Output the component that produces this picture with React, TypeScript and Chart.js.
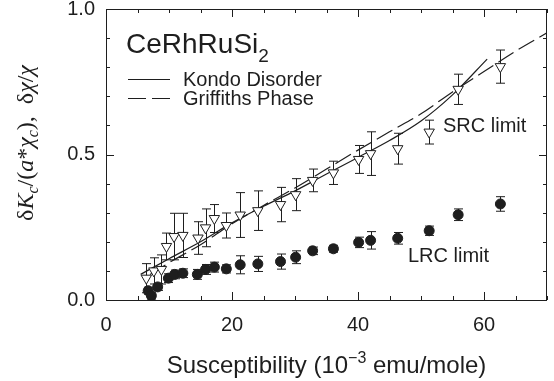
import React, { useEffect, useRef } from 'react';
import { Chart, registerables } from 'chart.js';

Chart.register(...registerables);

// ---- data ----
const srcX = [6.4, 7.6, 8.8, 9.6, 10.8, 12.2, 14.6, 15.8, 17.2, 19.1, 21.3, 24.1, 27.7, 30.1, 32.8, 36.1, 40.1, 42.0, 46.3, 51.3, 55.9, 62.6];
const srcY = [0.075, 0.1, 0.105, 0.184, 0.218, 0.222, 0.213, 0.248, 0.28, 0.256, 0.292, 0.307, 0.328, 0.362, 0.411, 0.437, 0.483, 0.503, 0.52, 0.577, 0.724, 0.802];
const srcErr = [0.05, 0.045, 0.05, 0.046, 0.08, 0.076, 0.056, 0.065, 0.048, 0.043, 0.077, 0.068, 0.059, 0.055, 0.039, 0.04, 0.048, 0.075, 0.053, 0.041, 0.052, 0.057];

const lrcX = [6.7, 7.2, 8.2, 9.9, 10.9, 12.2, 14.5, 15.8, 17.2, 19.1, 21.3, 24.1, 27.7, 30.1, 32.8, 36.1, 40.1, 42.0, 46.3, 51.3, 55.9, 62.6];
const lrcY = [0.032, 0.015, 0.045, 0.075, 0.088, 0.092, 0.088, 0.105, 0.113, 0.107, 0.121, 0.124, 0.132, 0.147, 0.169, 0.176, 0.198, 0.205, 0.212, 0.238, 0.293, 0.33];
const lrcErr = [0.012, 0.012, 0.012, 0.015, 0.015, 0.015, 0.017, 0.017, 0.017, 0.014, 0.031, 0.026, 0.026, 0.022, 0.013, 0.012, 0.018, 0.03, 0.02, 0.016, 0.02, 0.025];

const kondoX = [5.5, 10, 15, 20, 25, 30, 35, 40, 45, 50, 55, 60.5];
const kondoY = [0.088, 0.142, 0.2, 0.265, 0.322, 0.375, 0.433, 0.49, 0.548, 0.615, 0.705, 0.828];

const griffithsX = [7, 10, 15, 20, 25, 30, 35, 40, 45, 50, 55, 60, 65, 70];
const griffithsY = [0.088, 0.128, 0.19, 0.262, 0.325, 0.385, 0.45, 0.515, 0.578, 0.64, 0.715, 0.785, 0.855, 0.918];

const xTickValues = [0, 20, 40, 60];
const yTickValues = [0, 0.5, 1.0];
const xMinorStep = 5;
const yMinorStep = 0.1;

const INK = '#1e1e1e';
const SANS = '"Liberation Sans", Arial, Helvetica, sans-serif';
const SERIF = '"Liberation Serif", "Times New Roman", serif';

const pts = (xs: number[], ys: number[]) => xs.map((x, i) => ({ x, y: ys[i] }));

const errorBarPlugin = {
  id: 'errorBars',
  beforeDatasetsDraw(chart: any) {
    const ctx = chart.ctx;
    const xs = chart.scales.x;
    const ys = chart.scales.y;
    const sets: [number[], number[], number[]][] = [
      [srcX, srcY, srcErr],
      [lrcX, lrcY, lrcErr],
    ];
    ctx.save();
    ctx.strokeStyle = INK;
    ctx.lineWidth = 1;
    sets.forEach(([xv, yv, ev]) => {
      xv.forEach((xx, i) => {
        const px = Math.round(xs.getPixelForValue(xx)) + 0.5;
        const top = ys.getPixelForValue(yv[i] + ev[i]);
        const bot = ys.getPixelForValue(yv[i] - ev[i]);
        ctx.beginPath();
        ctx.moveTo(px, top);
        ctx.lineTo(px, bot);
        ctx.moveTo(px - 4.5, top);
        ctx.lineTo(px + 4.5, top);
        ctx.moveTo(px - 4.5, bot);
        ctx.lineTo(px + 4.5, bot);
        ctx.stroke();
      });
    });
    ctx.restore();
  },
};

function drawSegments(ctx: CanvasRenderingContext2D, segs: { t: string; f: string; dy?: number }[], startX: number, y: number) {
  let x = startX;
  segs.forEach((s) => {
    ctx.font = s.f;
    ctx.fillText(s.t, x, y + (s.dy || 0));
    x += ctx.measureText(s.t).width;
  });
}

function segWidth(ctx: CanvasRenderingContext2D, segs: { t: string; f: string }[]) {
  let w = 0;
  segs.forEach((s) => {
    ctx.font = s.f;
    w += ctx.measureText(s.t).width;
  });
  return w;
}

const framePlugin = {
  id: 'frameAndText',
  afterDraw(chart: any) {
    const ctx: CanvasRenderingContext2D = chart.ctx;
    const { left, right, top, bottom } = chart.chartArea;
    const xs = chart.scales.x;
    const ys = chart.scales.y;
    ctx.save();
    ctx.strokeStyle = INK;
    ctx.lineWidth = 1;
    // frame
    ctx.strokeRect(Math.round(left) + 0.5, Math.round(top) + 0.5, Math.round(right - left) - 1, Math.round(bottom - top));
    // x ticks (bottom and top, inward)
    for (let v = xs.min; v <= xs.max + 1e-9; v += xMinorStep) {
      const major = xTickValues.some((t) => Math.abs(t - v) < 1e-9);
      const len = major ? 8 : 4;
      const px = Math.round(xs.getPixelForValue(v)) + 0.5;
      ctx.beginPath();
      ctx.moveTo(px, bottom);
      ctx.lineTo(px, bottom - len);
      ctx.moveTo(px, top);
      ctx.lineTo(px, top + len);
      ctx.stroke();
    }
    // y ticks (left and right, inward)
    for (let v = ys.min; v <= ys.max + 1e-9; v += yMinorStep) {
      const major = yTickValues.some((t) => Math.abs(t - v) < 1e-9);
      const len = major ? 8 : 4;
      const py = Math.round(ys.getPixelForValue(v)) + 0.5;
      ctx.beginPath();
      ctx.moveTo(left, py);
      ctx.lineTo(left + len, py);
      ctx.moveTo(right, py);
      ctx.lineTo(right - len, py);
      ctx.stroke();
    }

    ctx.fillStyle = INK;
    ctx.textBaseline = 'alphabetic';
    ctx.textAlign = 'left';

    // compound label with subscript
    drawSegments(ctx, [
      { t: 'CeRhRuSi', f: `28px ${SANS}` },
      { t: '2', f: `19px ${SANS}`, dy: 9 },
    ], 126, 53);

    // legend entries
    ctx.lineWidth = 1.2;
    ctx.beginPath();
    ctx.moveTo(128, 79.5);
    ctx.lineTo(170, 79.5);
    ctx.stroke();
    ctx.setLineDash([18, 6]);
    ctx.beginPath();
    ctx.moveTo(128, 98.5);
    ctx.lineTo(170, 98.5);
    ctx.stroke();
    ctx.setLineDash([]);
    ctx.font = `20px ${SANS}`;
    ctx.fillText('Kondo Disorder', 183, 86);
    ctx.fillText('Griffiths Phase', 183, 105);

    // series annotations
    ctx.fillText('SRC limit', 443, 132);
    ctx.fillText('LRC limit', 408, 262);

    // x axis title with superscript
    const xSegs = [
      { t: 'Susceptibility (10', f: `24px ${SANS}` },
      { t: '\u22123', f: `16px ${SANS}`, dy: -10 },
      { t: ' emu/mole)', f: `24px ${SANS}` },
    ];
    const xw = segWidth(ctx, xSegs);
    drawSegments(ctx, xSegs, (left + right) / 2 - xw / 2, 373);

    // y axis title, rotated
    const it = `italic 24px ${SERIF}`;
    const rm = `24px ${SERIF}`;
    const sub = `italic 16px ${SERIF}`;
    const ySegs = [
      { t: '\u03B4', f: rm },
      { t: 'K', f: it },
      { t: 'c', f: sub, dy: 5 },
      { t: '/(', f: rm },
      { t: 'a', f: it },
      { t: '*', f: rm },
      { t: '\u03C7', f: it },
      { t: 'c', f: sub, dy: 5 },
      { t: '),  \u03B4', f: rm },
      { t: '\u03C7', f: it },
      { t: '/', f: rm },
      { t: '\u03C7', f: it },
    ];
    const yw = segWidth(ctx, ySegs);
    ctx.translate(33, 143);
    ctx.rotate(-Math.PI / 2);
    drawSegments(ctx, ySegs, -yw / 2, 0);
    ctx.restore();
  },
};

export default function App() {
  const ref = useRef<HTMLCanvasElement | null>(null);
  useEffect(() => {
    if (!ref.current) return;
    const chart = new Chart(ref.current, {
      type: 'scatter',
      data: {
        datasets: [
          {
            label: 'SRC limit',
            data: pts(srcX, srcY),
            pointStyle: 'triangle',
            rotation: 180,
            pointRadius: 6,
            pointBackgroundColor: '#ffffff',
            pointBorderColor: INK,
            pointBorderWidth: 1,
            showLine: false,
            order: 1,
          } as any,
          {
            label: 'LRC limit',
            data: pts(lrcX, lrcY),
            pointStyle: 'circle',
            pointRadius: 5,
            pointBackgroundColor: INK,
            pointBorderColor: INK,
            pointBorderWidth: 1,
            showLine: false,
            order: 2,
          } as any,
          {
            label: 'Kondo Disorder',
            data: pts(kondoX, kondoY),
            showLine: true,
            borderColor: INK,
            borderWidth: 1.2,
            pointRadius: 0,
            cubicInterpolationMode: 'monotone',
            fill: false,
            order: 3,
          } as any,
          {
            label: 'Griffiths Phase',
            data: pts(griffithsX, griffithsY),
            showLine: true,
            borderColor: INK,
            borderWidth: 1.2,
            borderDash: [18, 6],
            pointRadius: 0,
            cubicInterpolationMode: 'monotone',
            fill: false,
            order: 4,
          } as any,
        ],
      },
      options: {
        animation: false,
        responsive: false,
        events: [],
        layout: { padding: { top: 9, right: 5, left: 0, bottom: 0 } },
        plugins: { legend: { display: false }, tooltip: { enabled: false } },
        scales: {
          x: {
            type: 'linear',
            min: 0,
            max: 70,
            grid: { display: false, drawTicks: false },
            border: { display: false },
            afterBuildTicks: (s: any) => { s.ticks = xTickValues.map((v) => ({ value: v })); },
            afterFit: (s: any) => { s.height = 81; s.paddingLeft = 0; s.paddingRight = 0; },
            ticks: {
              color: INK,
              font: { family: SANS, size: 20 },
              padding: 13,
              maxRotation: 0,
              callback: (v: any) => String(v),
            },
          },
          y: {
            type: 'linear',
            min: 0,
            max: 1,
            grid: { display: false, drawTicks: false },
            border: { display: false },
            afterBuildTicks: (s: any) => { s.ticks = yTickValues.map((v) => ({ value: v })); },
            afterFit: (s: any) => { s.width = 106; s.paddingTop = 0; s.paddingBottom = 0; },
            ticks: {
              color: INK,
              font: { family: SANS, size: 20 },
              padding: 11,
              callback: (v: any) => Number(v).toFixed(1),
            },
          },
        },
      } as any,
      plugins: [errorBarPlugin, framePlugin],
    });
    return () => chart.destroy();
  }, []);
  return (
    <div style={{ position: 'absolute', left: 0, top: 0, width: 554, height: 381, background: '#fff' }}>
      <canvas ref={ref} width={554} height={381} style={{ display: 'block' }} />
    </div>
  );
}
